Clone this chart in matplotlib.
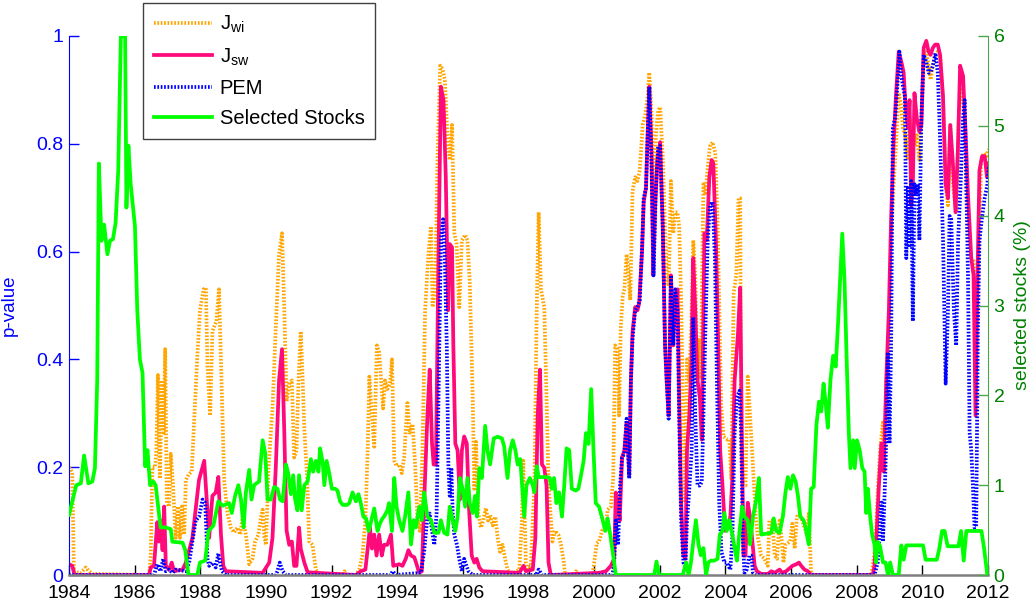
import matplotlib
matplotlib.use("Agg")
import matplotlib.pyplot as plt

plt.rcParams['font.family'] = ['Liberation Sans', 'DejaVu Sans']
plt.rcParams['mathtext.fontset'] = 'custom'
plt.rcParams['mathtext.rm'] = 'Liberation Sans'
plt.rcParams['mathtext.it'] = 'Liberation Sans:italic'

# (year, p-value)
jwi_pts = [(1984.00,0.20),(1984.10,0.19),(1984.15,0.007),(1984.25,0.005),(1984.36,0.004),(1984.51,0.014),(1984.61,0.007),(1984.71,0.002),(1986.44,0.0),(1986.49,0.036),(1986.54,0.20),(1986.62,0.20),(1986.66,0.225),(1986.71,0.371),(1986.77,0.179),(1986.83,0.361),(1986.88,0.264),(1986.93,0.419),(1986.98,0.134),(1987.05,0.127),(1987.10,0.225),(1987.17,0.166),(1987.25,0.069),(1987.32,0.127),(1987.38,0.069),(1987.44,0.127),(1987.51,0.075),(1987.56,0.176),(1987.64,0.186),(1987.74,0.192),(1987.81,0.283),(1987.91,0.406),(1987.99,0.491),(1988.10,0.530),(1988.17,0.533),(1988.22,0.387),(1988.30,0.296),(1988.37,0.452),(1988.49,0.471),(1988.57,0.530),(1988.66,0.329),(1988.73,0.173),(1988.83,0.114),(1988.93,0.088),(1989.03,0.079),(1989.13,0.088),(1989.22,0.075),(1989.29,0.108),(1989.39,0.075),(1989.49,0.020),(1989.59,0.030),(1989.67,0.062),(1989.77,0.075),(1989.85,0.108),(1989.90,0.121),(1989.95,0.072),(1990.00,0.056),(1990.08,0.199),(1990.20,0.309),(1990.30,0.458),(1990.40,0.595),(1990.49,0.634),(1990.56,0.491),(1990.63,0.322),(1990.71,0.355),(1990.79,0.361),(1990.86,0.218),(1990.93,0.231),(1990.99,0.355),(1991.06,0.452),(1991.12,0.361),(1991.17,0.270),(1991.25,0.186),(1991.32,0.062),(1991.42,0.056),(1991.52,0.010),(1991.62,0.0),(1992.34,0.0),(1992.39,0.007),(1992.44,0.0),(1992.74,0.0),(1992.84,0.010),(1992.94,0.036),(1993.03,0.101),(1993.10,0.231),(1993.15,0.368),(1993.23,0.296),(1993.30,0.238),(1993.38,0.426),(1993.45,0.413),(1993.57,0.309),(1993.63,0.361),(1993.70,0.345),(1993.78,0.355),(1993.84,0.400),(1993.91,0.212),(1993.98,0.202),(1994.06,0.205),(1994.14,0.189),(1994.21,0.218),(1994.31,0.319),(1994.38,0.264),(1994.47,0.280),(1994.55,0.199),(1994.62,0.101),(1994.69,0.082),(1994.77,0.231),(1994.85,0.491),(1994.95,0.595),(1995.03,0.647),(1995.08,0.497),(1995.16,0.530),(1995.23,0.777),(1995.31,0.945),(1995.38,0.939),(1995.45,0.919),(1995.53,0.816),(1995.60,0.770),(1995.67,0.835),(1995.74,0.634),(1995.81,0.614),(1995.89,0.497),(1995.97,0.621),(1996.07,0.631),(1996.14,0.621),(1996.21,0.543),(1996.30,0.329),(1996.35,0.160),(1996.40,0.247),(1996.47,0.114),(1996.55,0.088),(1996.62,0.101),(1996.70,0.124),(1996.77,0.101),(1996.83,0.111),(1996.91,0.092),(1996.99,0.108),(1997.06,0.069),(1997.13,0.043),(1997.21,0.056),(1997.28,0.033),(1997.36,0.010),(1997.46,0.0),(1997.72,0.010),(1997.80,0.101),(1997.84,0.212),(1997.92,0.023),(1998.00,0.007),(1998.07,0.017),(1998.18,0.166),(1998.25,0.491),(1998.31,0.673),(1998.38,0.530),(1998.48,0.497),(1998.55,0.329),(1998.61,0.166),(1998.73,0.062),(1998.81,0.082),(1998.91,0.075),(1998.99,0.056),(1999.06,0.030),(1999.12,0.0),(1999.39,0.0),(1999.44,0.007),(1999.54,0.0),(1999.95,0.0),(2000.03,0.036),(2000.08,0.059),(2000.15,0.062),(2000.24,0.082),(2000.36,0.088),(2000.41,0.121),(2000.51,0.127),(2000.58,0.179),(2000.64,0.426),(2000.71,0.419),(2000.76,0.296),(2000.81,0.458),(2000.87,0.517),(2000.92,0.530),(2000.99,0.595),(2001.05,0.556),(2001.10,0.510),(2001.17,0.712),(2001.25,0.738),(2001.32,0.731),(2001.39,0.751),(2001.48,0.835),(2001.56,0.855),(2001.63,0.887),(2001.68,0.932),(2001.75,0.855),(2001.81,0.634),(2001.88,0.816),(2001.95,0.861),(2002.01,0.868),(2002.09,0.777),(2002.15,0.660),(2002.21,0.556),(2002.27,0.536),(2002.34,0.731),(2002.41,0.634),(2002.47,0.673),(2002.54,0.673),(2002.59,0.647),(2002.65,0.510),(2002.72,0.264),(2002.78,0.134),(2002.83,0.400),(2002.90,0.361),(2002.96,0.465),(2003.02,0.621),(2003.08,0.556),(2003.15,0.361),(2003.20,0.439),(2003.25,0.368),(2003.33,0.725),(2003.39,0.705),(2003.46,0.757),(2003.53,0.796),(2003.61,0.803),(2003.69,0.783),(2003.76,0.653),(2003.87,0.316),(2003.94,0.257),(2004.07,0.251),(2004.12,0.251),(2004.18,0.179),(2004.25,0.523),(2004.33,0.556),(2004.40,0.699),(2004.45,0.699),(2004.48,0.231),(2004.53,0.166),(2004.61,0.166),(2004.68,0.368),(2004.75,0.296),(2004.84,0.199),(2004.92,0.114),(2004.99,0.069),(2005.09,0.036),(2005.19,0.030),(2005.29,0.017),(2005.34,0.101),(2005.43,0.101),(2005.50,0.036),(2005.57,0.030),(2005.65,0.101),(2005.70,0.075),(2005.77,0.023),(2005.83,0.056),(2005.97,0.062),(2006.04,0.095),(2006.11,0.049),(2006.18,0.108),(2006.26,0.114),(2006.34,0.101),(2006.41,0.088),(2006.48,0.075),(2006.54,0.114),(2006.61,0.004),(2006.67,0.0),(2008.44,0.0),(2008.49,0.017),(2008.57,0.056),(2008.64,0.153),(2008.71,0.231),(2008.80,0.283),(2008.85,0.192),(2008.90,0.361),(2008.98,0.439),(2009.05,0.621),(2009.12,0.718),(2009.20,0.803),(2009.28,0.894),(2009.36,0.868),(2009.41,0.829),(2009.48,0.816),(2009.56,0.770),(2009.61,0.848),(2009.69,0.816),(2009.76,0.796),(2009.83,0.816),(2009.91,0.770),(2009.99,0.868),(2010.05,0.971),(2010.12,0.971),(2010.19,0.945),(2010.25,0.919),(2010.32,0.945),(2010.39,0.965),(2010.47,0.971),(2010.54,0.965),(2010.63,0.881),(2010.71,0.725),(2010.78,0.686),(2010.85,0.835),(2010.93,0.725),(2011.03,0.673),(2011.11,0.848),(2011.18,0.900),(2011.26,0.881),(2011.34,0.718),(2011.42,0.621),(2011.49,0.588),(2011.56,0.582),(2011.64,0.45),(2011.72,0.588),(2011.79,0.770),(2011.87,0.783),(2011.95,0.777),(2012.03,0.790)]

jsw_pts = [(1984.00,0.020),(1984.10,0.017),(1984.17,0.0),(1986.44,0.0),(1986.49,0.014),(1986.59,0.017),(1986.69,0.098),(1986.74,0.062),(1986.79,0.101),(1986.85,0.046),(1986.90,0.127),(1986.95,0.017),(1987.05,0.010),(1987.13,0.023),(1987.20,0.007),(1987.46,0.010),(1987.56,0.023),(1987.76,0.069),(1987.96,0.176),(1988.12,0.212),(1988.20,0.134),(1988.27,0.069),(1988.37,0.147),(1988.47,0.153),(1988.55,0.182),(1988.63,0.075),(1988.70,0.017),(1988.78,0.007),(1989.90,0.004),(1990.10,0.023),(1990.20,0.069),(1990.30,0.199),(1990.40,0.361),(1990.49,0.419),(1990.56,0.264),(1990.63,0.082),(1990.71,0.056),(1990.79,0.062),(1990.86,0.017),(1990.93,0.017),(1991.01,0.088),(1991.06,0.049),(1991.17,0.023),(1991.27,0.005),(1992.74,0.0),(1992.89,0.007),(1993.03,0.010),(1993.10,0.049),(1993.17,0.088),(1993.23,0.049),(1993.30,0.075),(1993.37,0.036),(1993.45,0.075),(1993.53,0.036),(1993.60,0.056),(1993.70,0.056),(1993.81,0.075),(1993.88,0.017),(1994.06,0.020),(1994.16,0.017),(1994.26,0.030),(1994.34,0.046),(1994.42,0.036),(1994.52,0.033),(1994.59,0.020),(1994.67,0.004),(1994.75,0.007),(1994.82,0.134),(1994.92,0.296),(1994.99,0.381),(1995.06,0.244),(1995.11,0.205),(1995.18,0.205),(1995.25,0.556),(1995.33,0.906),(1995.41,0.881),(1995.48,0.738),(1995.55,0.491),(1995.60,0.614),(1995.67,0.608),(1995.71,0.426),(1995.77,0.244),(1995.84,0.231),(1995.91,0.140),(1995.97,0.231),(1996.04,0.257),(1996.12,0.244),(1996.19,0.121),(1996.27,0.036),(1996.35,0.023),(1996.42,0.030),(1996.50,0.014),(1996.60,0.007),(1997.72,0.004),(1997.85,0.017),(1997.92,0.007),(1998.13,0.010),(1998.21,0.069),(1998.28,0.296),(1998.35,0.381),(1998.41,0.205),(1998.48,0.199),(1998.55,0.166),(1998.61,0.023),(1998.68,0.0),(2000.15,0.004),(2000.36,0.007),(2000.51,0.017),(2000.61,0.030),(2000.66,0.153),(2000.73,0.127),(2000.78,0.101),(2000.85,0.218),(2000.92,0.231),(2000.99,0.283),(2001.07,0.186),(2001.12,0.361),(2001.17,0.452),(2001.25,0.497),(2001.32,0.491),(2001.37,0.504),(2001.46,0.601),(2001.51,0.692),(2001.58,0.718),(2001.63,0.816),(2001.68,0.906),(2001.75,0.783),(2001.80,0.556),(2001.86,0.686),(2001.93,0.770),(2002.01,0.803),(2002.09,0.647),(2002.16,0.426),(2002.21,0.361),(2002.27,0.296),(2002.34,0.556),(2002.41,0.426),(2002.47,0.517),(2002.54,0.530),(2002.59,0.329),(2002.65,0.134),(2002.72,0.036),(2002.78,0.030),(2002.83,0.231),(2002.90,0.296),(2002.96,0.387),(2003.02,0.588),(2003.08,0.491),(2003.15,0.361),(2003.22,0.329),(2003.28,0.251),(2003.36,0.634),(2003.43,0.621),(2003.51,0.738),(2003.58,0.770),(2003.63,0.764),(2003.71,0.621),(2003.78,0.426),(2003.84,0.231),(2003.91,0.166),(2003.99,0.082),(2004.07,0.088),(2004.15,0.108),(2004.21,0.179),(2004.28,0.361),(2004.38,0.445),(2004.45,0.533),(2004.50,0.264),(2004.55,0.036),(2004.61,0.036),(2004.68,0.134),(2004.75,0.108),(2004.82,0.062),(2004.89,0.017),(2004.96,0.007),(2005.09,0.002),(2005.29,0.002),(2005.40,0.007),(2005.50,0.004),(2005.65,0.010),(2005.73,0.004),(2005.85,0.007),(2006.04,0.017),(2006.16,0.020),(2006.24,0.023),(2006.31,0.017),(2006.41,0.010),(2006.51,0.007),(2006.61,0.0),(2008.49,0.0),(2008.54,0.017),(2008.61,0.082),(2008.67,0.160),(2008.75,0.244),(2008.82,0.192),(2008.90,0.361),(2008.98,0.491),(2009.05,0.666),(2009.12,0.796),(2009.20,0.894),(2009.28,0.971),(2009.36,0.952),(2009.43,0.932),(2009.49,0.868),(2009.56,0.829),(2009.61,0.881),(2009.66,0.686),(2009.71,0.725),(2009.76,0.894),(2009.83,0.848),(2009.91,0.822),(2009.97,0.835),(2010.04,0.978),(2010.12,0.991),(2010.19,0.971),(2010.25,0.965),(2010.32,0.978),(2010.39,0.984),(2010.47,0.984),(2010.54,0.965),(2010.63,0.887),(2010.71,0.725),(2010.78,0.699),(2010.85,0.835),(2010.93,0.764),(2011.01,0.673),(2011.08,0.783),(2011.15,0.945),(2011.24,0.926),(2011.32,0.816),(2011.39,0.705),(2011.49,0.588),(2011.56,0.556),(2011.62,0.296),(2011.68,0.556),(2011.74,0.751),(2011.82,0.777),(2011.90,0.777),(2011.97,0.738),(2012.03,0.764)]

pem_pts = [(1984.00,0.0),(1986.59,0.0),(1986.69,0.020),(1986.79,0.007),(1986.87,0.030),(1986.95,0.007),(1987.05,0.010),(1987.15,0.004),(1987.25,0.010),(1987.56,0.007),(1987.66,0.023),(1987.76,0.062),(1987.86,0.101),(1987.96,0.108),(1988.07,0.140),(1988.15,0.134),(1988.22,0.030),(1988.27,0.017),(1988.37,0.023),(1988.47,0.014),(1988.55,0.040),(1988.66,0.007),(1988.78,0.0),(1990.30,0.0),(1990.35,0.007),(1990.42,0.023),(1990.51,0.007),(1990.61,0.0),(1993.80,0.0),(1993.86,0.007),(1993.96,0.0),(1994.72,0.004),(1994.82,0.043),(1994.92,0.108),(1994.99,0.114),(1995.06,0.082),(1995.13,0.056),(1995.20,0.114),(1995.26,0.335),(1995.33,0.621),(1995.40,0.660),(1995.45,0.588),(1995.51,0.426),(1995.56,0.199),(1995.60,0.147),(1995.65,0.199),(1995.69,0.114),(1995.74,0.075),(1995.82,0.056),(1995.89,0.030),(1995.97,0.007),(1996.04,0.030),(1996.11,0.017),(1996.17,0.007),(1996.30,0.0),(1998.23,0.0),(1998.31,0.010),(1998.41,0.0),(2000.56,0.0),(2000.61,0.023),(2000.66,0.101),(2000.73,0.056),(2000.79,0.166),(2000.85,0.218),(2000.92,0.225),(2000.99,0.290),(2001.07,0.179),(2001.12,0.361),(2001.17,0.439),(2001.25,0.491),(2001.32,0.497),(2001.39,0.510),(2001.46,0.608),(2001.51,0.699),(2001.58,0.718),(2001.63,0.816),(2001.68,0.906),(2001.75,0.751),(2001.81,0.556),(2001.88,0.718),(2001.95,0.796),(2002.01,0.796),(2002.09,0.647),(2002.16,0.426),(2002.21,0.361),(2002.27,0.290),(2002.34,0.556),(2002.41,0.426),(2002.47,0.530),(2002.54,0.491),(2002.59,0.296),(2002.65,0.101),(2002.72,0.023),(2002.78,0.017),(2002.83,0.101),(2002.90,0.160),(2002.97,0.231),(2003.02,0.478),(2003.08,0.296),(2003.15,0.166),(2003.22,0.166),(2003.28,0.173),(2003.33,0.296),(2003.39,0.458),(2003.46,0.621),(2003.53,0.686),(2003.61,0.692),(2003.68,0.588),(2003.74,0.361),(2003.81,0.134),(2003.88,0.043),(2003.97,0.023),(2004.04,0.023),(2004.15,0.010),(2004.21,0.069),(2004.28,0.264),(2004.35,0.329),(2004.43,0.342),(2004.48,0.264),(2004.53,0.069),(2004.58,0.004),(2004.65,0.010),(2004.73,0.036),(2004.79,0.036),(2004.84,0.004),(2004.94,0.0),(2008.54,0.0),(2008.64,0.023),(2008.71,0.088),(2008.74,0.134),(2008.77,0.134),(2008.80,0.062),(2008.88,0.205),(2008.95,0.413),(2009.00,0.244),(2009.05,0.439),(2009.10,0.829),(2009.17,0.848),(2009.23,0.900),(2009.30,0.971),(2009.36,0.926),(2009.41,0.906),(2009.47,0.887),(2009.51,0.588),(2009.56,0.718),(2009.61,0.608),(2009.66,0.731),(2009.71,0.471),(2009.76,0.725),(2009.81,0.705),(2009.86,0.725),(2009.91,0.621),(2009.97,0.848),(2010.04,0.965),(2010.12,0.952),(2010.19,0.932),(2010.25,0.932),(2010.32,0.945),(2010.40,0.968),(2010.47,0.932),(2010.54,0.809),(2010.63,0.621),(2010.71,0.355),(2010.78,0.491),(2010.83,0.666),(2010.88,0.660),(2010.96,0.491),(2011.03,0.426),(2011.09,0.621),(2011.16,0.718),(2011.24,0.848),(2011.29,0.881),(2011.34,0.718),(2011.39,0.556),(2011.44,0.264),(2011.49,0.231),(2011.54,0.166),(2011.59,0.088),(2011.64,0.088),(2011.69,0.45),(2011.74,0.62),(2011.81,0.66),(2011.90,0.70),(2011.97,0.72),(2012.03,0.76)]

# (year, selected stocks in %), right axis
stocks_pts = [(1984.00,0.67),(1984.22,1.00),(1984.36,1.02),(1984.46,1.33),(1984.59,1.02),(1984.71,1.04),(1984.79,1.19),(1984.86,2.17),(1984.91,4.58),(1984.99,3.72),(1985.07,3.90),(1985.17,3.57),(1985.25,3.72),(1985.34,3.74),(1985.42,3.92),(1985.50,4.50),(1985.58,6.0),(1985.71,6.0),(1985.75,4.09),(1985.81,4.78),(1985.88,4.35),(1986.01,3.88),(1986.08,2.95),(1986.16,2.40),(1986.24,2.25),(1986.32,1.21),(1986.39,1.39),(1986.47,1.00),(1986.57,1.04),(1986.64,1.00),(1986.79,0.53),(1986.95,0.53),(1987.10,0.51),(1987.15,0.37),(1987.46,0.36),(1987.54,0.28),(1987.64,0.0),(1987.91,0.0),(1987.99,0.14),(1988.15,0.16),(1988.25,0.49),(1988.40,0.55),(1988.55,0.82),(1988.68,0.77),(1988.88,0.80),(1988.96,0.69),(1989.06,0.88),(1989.16,1.00),(1989.24,0.84),(1989.32,0.53),(1989.39,0.92),(1989.49,1.17),(1989.56,0.84),(1989.64,1.00),(1989.71,1.02),(1989.79,1.04),(1989.90,1.50),(1989.98,1.35),(1990.05,0.84),(1990.15,0.84),(1990.25,0.98),(1990.35,0.96),(1990.43,0.84),(1990.51,0.82),(1990.61,1.23),(1990.68,1.13),(1990.76,0.90),(1990.83,1.11),(1990.89,0.84),(1990.96,0.72),(1991.01,1.11),(1991.09,0.72),(1991.17,1.00),(1991.27,1.04),(1991.37,1.29),(1991.44,1.15),(1991.52,1.27),(1991.60,1.15),(1991.65,1.41),(1991.73,1.25),(1991.78,1.00),(1991.85,1.27),(1991.93,1.13),(1992.01,0.96),(1992.11,0.96),(1992.18,0.94),(1992.26,0.82),(1992.34,0.78),(1992.47,0.78),(1992.54,0.80),(1992.64,0.92),(1992.74,0.82),(1992.82,0.90),(1992.89,0.80),(1992.97,0.65),(1993.05,0.63),(1993.13,0.49),(1993.20,0.59),(1993.30,0.74),(1993.40,0.49),(1993.47,0.57),(1993.55,0.63),(1993.60,0.65),(1993.70,0.72),(1993.75,0.80),(1993.84,0.49),(1993.91,1.08),(1993.98,0.76),(1994.06,0.61),(1994.16,0.49),(1994.24,0.65),(1994.34,0.92),(1994.42,0.34),(1994.50,0.61),(1994.57,0.53),(1994.67,0.76),(1994.75,0.61),(1994.82,0.92),(1994.92,0.65),(1995.03,0.61),(1995.13,0.47),(1995.26,0.47),(1995.33,0.61),(1995.43,0.47),(1995.53,0.45),(1995.60,0.76),(1995.69,0.61),(1995.77,0.49),(1995.84,0.65),(1995.91,1.08),(1995.99,0.96),(1996.07,0.76),(1996.14,1.08),(1996.21,0.80),(1996.30,0.69),(1996.37,0.88),(1996.43,0.65),(1996.50,1.19),(1996.58,1.08),(1996.68,1.66),(1996.75,1.39),(1996.83,1.23),(1996.94,1.52),(1997.06,1.54),(1997.19,1.52),(1997.26,1.43),(1997.36,1.08),(1997.44,1.39),(1997.52,1.50),(1997.60,1.39),(1997.67,1.23),(1997.75,1.29),(1997.82,0.92),(1997.87,0.65),(1997.94,1.00),(1998.04,1.08),(1998.13,1.00),(1998.18,0.92),(1998.25,1.21),(1998.31,1.09),(1998.43,1.09),(1998.58,1.09),(1998.65,1.08),(1998.71,0.96),(1998.78,1.08),(1998.85,0.80),(1998.93,0.92),(1999.02,0.65),(1999.09,1.00),(1999.16,1.41),(1999.24,1.39),(1999.32,0.96),(1999.44,0.94),(1999.52,0.96),(1999.60,1.11),(1999.68,1.27),(1999.75,1.58),(1999.83,1.46),(1999.91,2.07),(1999.98,1.39),(2000.05,0.80),(2000.15,0.76),(2000.26,0.61),(2000.34,0.49),(2000.41,0.63),(2000.49,0.45),(2000.58,0.22),(2000.66,0.0),(2001.83,0.0),(2001.90,0.15),(2001.98,0.0),(2002.70,0.0),(2002.80,0.14),(2002.88,0.0),(2002.95,0.14),(2003.02,0.37),(2003.10,0.61),(2003.18,0.34),(2003.25,0.22),(2003.33,0.30),(2003.41,0.0),(2003.48,0.14),(2003.56,0.16),(2003.66,0.16),(2003.76,0.18),(2003.83,0.45),(2003.91,0.49),(2003.97,0.69),(2004.04,0.49),(2004.12,0.61),(2004.21,0.45),(2004.28,0.30),(2004.35,0.16),(2004.43,0.49),(2004.51,0.76),(2004.58,0.65),(2004.68,0.61),(2004.75,0.34),(2004.84,0.65),(2004.94,0.84),(2005.02,1.08),(2005.09,0.45),(2005.40,0.47),(2005.47,0.63),(2005.55,0.49),(2005.65,0.47),(2005.75,0.65),(2005.83,0.92),(2005.90,1.09),(2005.98,0.96),(2006.06,1.11),(2006.14,1.04),(2006.21,0.88),(2006.28,0.65),(2006.38,0.61),(2006.44,0.53),(2006.48,0.45),(2006.54,0.34),(2006.61,0.96),(2006.69,0.98),(2006.77,1.66),(2006.85,1.93),(2006.92,1.82),(2006.99,2.13),(2007.05,1.93),(2007.12,1.64),(2007.20,2.17),(2007.28,2.44),(2007.36,2.32),(2007.43,2.79),(2007.50,3.34),(2007.56,3.80),(2007.63,3.26),(2007.70,2.32),(2007.76,1.58),(2007.81,1.19),(2007.89,1.50),(2007.94,1.19),(2008.01,1.50),(2008.09,1.39),(2008.17,1.19),(2008.24,1.15),(2008.29,0.69),(2008.34,0.96),(2008.41,0.65),(2008.47,0.45),(2008.54,0.34),(2008.59,0.14),(2008.64,0.37),(2008.71,0.32),(2008.80,0.14),(2008.88,0.14),(2008.95,0.0),(2009.02,0.14),(2009.10,0.0),(2009.28,0.0),(2009.36,0.33),(2009.43,0.17),(2009.51,0.33),(2010.02,0.33),(2010.10,0.17),(2010.44,0.17),(2010.52,0.30),(2010.60,0.49),(2010.68,0.49),(2010.77,0.32),(2011.10,0.32),(2011.18,0.49),(2011.26,0.16),(2011.34,0.49),(2011.80,0.49),(2011.88,0.30),(2011.98,0.0)]

year_ticks = list(range(1984, 2013, 2))
p_ticks = [0, 0.2, 0.4, 0.6, 0.8, 1]
p_tick_labels = ['0', '0.2', '0.4', '0.6', '0.8', '1']
pct_ticks = [0, 1, 2, 3, 4, 5, 6]

W, H = 1036, 602
fig = plt.figure(figsize=(W / 100, H / 100), dpi=100)
ax = fig.add_axes([69 / W, 1 - 575 / H, (988 - 69) / W, (575 - 36) / H])
ax2 = ax.twinx()

dot = (0, (0.45, 0.45))
lw = 2.7
l1, = ax.plot([t for t, v in jwi_pts], [v for t, v in jwi_pts], color='#FFA500', lw=lw, ls=dot,
              label=r'$\mathregular{J_{wi}}$')
l2, = ax.plot([t for t, v in jsw_pts], [v for t, v in jsw_pts], color='#FF0A7A', lw=lw,
              label=r'$\mathregular{J_{sw}}$')
l3, = ax.plot([t for t, v in pem_pts], [v for t, v in pem_pts], color='#0000FF', lw=lw, ls=dot,
              label='PEM')
l4, = ax2.plot([t for t, v in stocks_pts], [v for t, v in stocks_pts], color='#00FF00', lw=lw,
               label='Selected Stocks')

ax.set_xlim(1984, 2012)
ax.set_ylim(0, 1)
ax2.set_ylim(0, 6)

ax.set_xticks(year_ticks)
ax.set_xticklabels([str(y) for y in year_ticks])
ax.set_yticks(p_ticks)
ax.set_yticklabels(p_tick_labels)
ax2.set_yticks(pct_ticks)
ax2.set_yticklabels([str(v) for v in pct_ticks])

ax.tick_params(axis='x', direction='in', length=7, width=1, colors='black', labelsize=14, pad=7.5)
ax.tick_params(axis='y', direction='in', length=7, width=1, colors='#0000FF', labelsize=14, pad=4)
ax2.tick_params(axis='y', direction='in', length=7, width=1, color='#4DA64D',
                labelcolor='#008000', labelsize=14, pad=4)

for s in ['top', 'right']:
    ax.spines[s].set_visible(False)
for s in ['top', 'left', 'bottom']:
    ax2.spines[s].set_visible(False)
ax.spines['left'].set_color('#0000FF')
ax.spines['bottom'].set_color('#7F7F7F')
ax.spines['bottom'].set_linewidth(1.8)
ax2.spines['right'].set_color('#4DA64D')

ax.set_ylabel('p-value', color='#0000FF', fontsize=13.5)
ax.yaxis.set_label_coords((18 - 69) / 919, 0.5)
ax2.set_ylabel('selected stocks (%)', color='#008000', fontsize=14)
ax2.yaxis.set_label_coords((1014 - 69) / 919, 0.5)

leg = fig.legend([l1, l2, l3, l4], [h.get_label() for h in [l1, l2, l3, l4]],
                 loc='upper left', bbox_to_anchor=(143 / W, 1 - 3 / H), fontsize=14.5,
                 frameon=True, fancybox=False, edgecolor='#404040', framealpha=1,
                 borderaxespad=0, handlelength=2.9, handletextpad=0.35,
                 labelspacing=0.55, borderpad=0.55)
leg.get_frame().set_linewidth(1.0)

fig.savefig('out.png', dpi=100)
